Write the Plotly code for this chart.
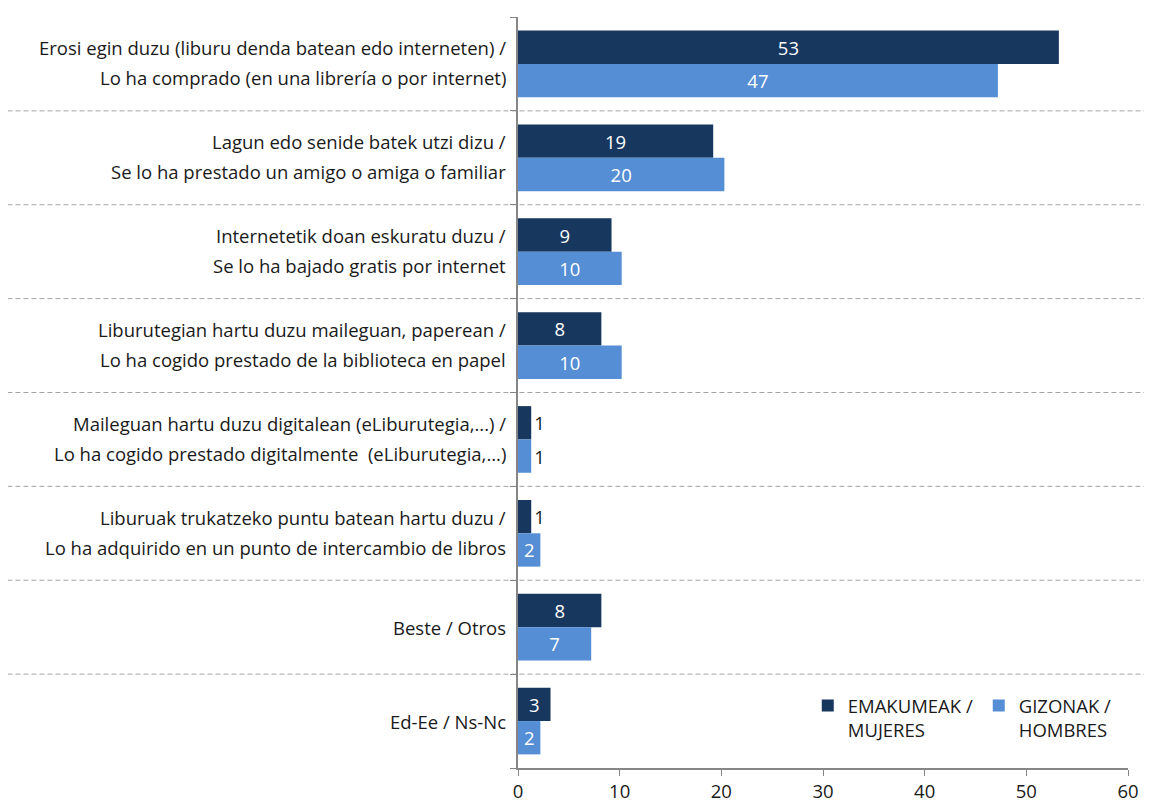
import plotly.graph_objects as go

labels_eu = [
    "Erosi egin duzu (liburu denda batean edo interneten) /",
    "Lagun edo senide batek utzi dizu /",
    "Internetetik doan eskuratu duzu /",
    "Liburutegian hartu duzu maileguan, paperean /",
    "Maileguan hartu duzu digitalean (eLiburutegia,...) /",
    "Liburuak trukatzeko puntu batean hartu duzu /",
    "Beste / Otros",
    "Ed-Ee / Ns-Nc",
]
labels_es = [
    "Lo ha comprado (en una librería o por internet)",
    "Se lo ha prestado un amigo o amiga o familiar",
    "Se lo ha bajado gratis por internet",
    "Lo ha cogido prestado de la biblioteca en papel",
    "Lo ha cogido prestado digitalmente  (eLiburutegia,...)",
    "Lo ha adquirido en un punto de intercambio de libros",
    "",
    "",
]
women = [53.2, 19.2, 9.2, 8.2, 1.3, 1.3, 8.2, 3.2]
men = [47.2, 20.3, 10.2, 10.2, 1.3, 2.2, 7.2, 2.2]
series_names = ["EMAKUMEAK /<br>MUJERES", "GIZONAK /<br>HOMBRES"]
x_ticks = [0, 10, 20, 30, 40, 50, 60]

DARK = "#17375E"
LIGHT = "#558ED5"
FONT = "Open Sans"
FS = 18.5
TXT = "#1a1a1a"

pos = list(range(len(labels_eu)))

def text_pos(vals):
    return ["outside" if round(v) < 2 else "inside" for v in vals]

fig = go.Figure()
for vals, name, col in [(women, series_names[0], DARK), (men, series_names[1], LIGHT)]:
    fig.add_trace(go.Bar(
        x=vals, y=pos, orientation="h", name=name,
        marker=dict(color=col, line=dict(width=0)),
        texttemplate="%{x:.0f}", textposition=text_pos(vals),
        insidetextanchor="middle",
        insidetextfont=dict(color="white", size=FS, family=FONT),
        outsidetextfont=dict(color=TXT, size=FS, family=FONT),
        textangle=0, cliponaxis=False,
    ))

shapes = []
for b in range(len(labels_eu) - 1):
    shapes.append(dict(type="line", xref="paper", yref="y",
                       x0=-0.837, x1=1.04, y0=b + 0.5, y1=b + 0.5,
                       line=dict(color="#A6A6A6", width=1, dash="5px,3px"), layer="below"))

annotations = []
for i, (a, b) in enumerate(zip(labels_eu, labels_es)):
    common = dict(x=-0.016, xref="paper", y=i, yref="y", xanchor="right", yanchor="middle",
                  showarrow=False, font=dict(size=FS, family=FONT, color=TXT))
    if b:
        annotations.append(dict(text=a, yshift=16, **common))
        annotations.append(dict(text=b, yshift=-14, **common))
    else:
        annotations.append(dict(text=a, **common))

# page has an 8px body margin: shrink the figure so the plot lands where the reference's does
fig.update_layout(
    width=1144, height=797,
    margin=dict(l=510, r=24, t=9, b=37, autoexpand=False),
    plot_bgcolor="white", paper_bgcolor="white",
    barmode="group", bargap=0.29, bargroupgap=0.0,
    font=dict(family=FONT, size=FS, color=TXT),
    shapes=shapes, annotations=annotations,
    legend=dict(orientation="h", x=0.475, y=0.108, xanchor="left", yanchor="top",
                font=dict(size=FS, family=FONT, color=TXT), bgcolor="rgba(0,0,0,0)",
                itemwidth=30, entrywidth=126, valign="top"),
    showlegend=True,
)
fig.update_xaxes(range=[0, 60], tickvals=x_ticks, showgrid=False, zeroline=False,
                 showline=True, linecolor="#868686", linewidth=1.5,
                 ticks="outside", ticklen=6, tickcolor="#868686",
                 tickfont=dict(size=FS, family=FONT, color=TXT))
fig.update_yaxes(range=[7.5, -0.5], showticklabels=False, showgrid=False, zeroline=False,
                 showline=True, linecolor="#868686", linewidth=1.5, ticks="",
                 minor=dict(ticks="outside", tick0=0.5, dtick=1, ticklen=6, tickcolor="#868686"))

fig.write_html("out.html")
